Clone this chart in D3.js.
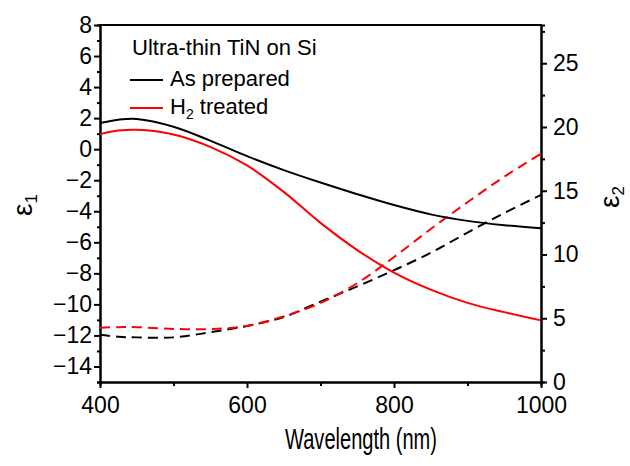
<!DOCTYPE html>
<html>
<head>
<meta charset="utf-8">
<script src="https://cdn.jsdelivr.net/npm/d3@7"></script>
<style>
  body { margin: 0; background: #fff; }
  svg { font-family: "Liberation Sans", Arial, sans-serif; }
  .axis path, .axis line { stroke: #000; stroke-width: 2; }
  .axis text { font-size: 23px; fill: #000; }
</style>
</head>
<body>
<svg width="630" height="466"></svg>
<script>
// wavelength grid (nm)
var wavelength = [400, 425, 450, 500, 550, 600, 650, 700, 750, 800, 850, 900, 950, 1000];
// eps1 (left axis)
var eps1_asPrepared = [1.68, 1.9, 1.95, 1.45, 0.55, -0.45, -1.35, -2.15, -2.9, -3.6, -4.2, -4.62, -4.9, -5.1];
var eps1_h2 = [0.97, 1.2, 1.25, 0.95, 0.15, -1.05, -2.75, -4.75, -6.5, -7.95, -9.05, -9.9, -10.5, -11.03];
// eps2 (right axis)
var eps2_asPrepared = [3.7, 3.55, 3.5, 3.5, 3.9, 4.4, 5.1, 6.3, 7.5, 8.77, 10.13, 11.72, 13.25, 14.67];
var eps2_h2 = [4.26, 4.3, 4.3, 4.16, 4.15, 4.4, 5.15, 6.2, 7.75, 9.8, 12.0, 14.1, 16.1, 17.9];

var xMajor = [400, 600, 800, 1000], xMinor = [500, 700, 900];
var y1Major = d3.range(-14, 9, 2), y1Minor = d3.range(-15, 8, 2);
var y2Major = [0, 5, 10, 15, 20, 25], y2Minor = [2.5, 7.5, 12.5, 17.5, 22.5, 27.5];

var svg = d3.select("svg");
var mLeft = 100, mRight = 541, mTop = 25, mBottom = 382;

var x = d3.scaleLinear().domain([400, 1000]).range([mLeft, mRight]);
var y1 = d3.scaleLinear().domain([-15, 8]).range([mBottom, mTop]);
var y2 = d3.scaleLinear().domain([0, 28]).range([mBottom, mTop]);
var fmt = d3.format("d");

// minor ticks
svg.append("g").attr("class", "axis").attr("transform", "translate(0," + mBottom + ")")
  .call(d3.axisBottom(x).tickValues(xMinor).tickSize(4).tickFormat(""));
svg.append("g").attr("class", "axis").attr("transform", "translate(" + mLeft + ",0)")
  .call(d3.axisLeft(y1).tickValues(y1Minor).tickSize(3).tickFormat(""));
svg.append("g").attr("class", "axis").attr("transform", "translate(" + mRight + ",0)")
  .call(d3.axisRight(y2).tickValues(y2Minor).tickSize(4).tickFormat(""));

// major ticks
svg.append("g").attr("class", "axis").attr("transform", "translate(0," + mBottom + ")")
  .call(d3.axisBottom(x).tickValues(xMajor).tickFormat(fmt).tickSize(6).tickPadding(9).tickSizeOuter(0));
svg.append("g").attr("class", "axis").attr("transform", "translate(" + mLeft + ",0)")
  .call(d3.axisLeft(y1).tickValues(y1Major).tickFormat(fmt).tickSize(6).tickPadding(2).tickSizeOuter(0));
svg.append("g").attr("class", "axis").attr("transform", "translate(" + mRight + ",0)")
  .call(d3.axisRight(y2).tickValues(y2Major).tickFormat(fmt).tickSize(6).tickPadding(6).tickSizeOuter(0));

// top border
svg.append("line").attr("x1", mLeft - 1).attr("x2", mRight + 1).attr("y1", mTop).attr("y2", mTop)
  .attr("stroke", "#000").attr("stroke-width", 2);

function lineFor(yScale, vals) {
  return d3.line()
    .x(function(d, i) { return x(wavelength[i]); })
    .y(function(d) { return yScale(d); })
    .curve(d3.curveCatmullRom)(vals);
}

var series = [
  {vals: eps2_asPrepared, scale: y2, color: "#000", dash: "10,6"},
  {vals: eps2_h2, scale: y2, color: "#ff0000", dash: "10,6"},
  {vals: eps1_asPrepared, scale: y1, color: "#000", dash: null},
  {vals: eps1_h2, scale: y1, color: "#ff0000", dash: null}
];
svg.selectAll("path.curve").data(series).enter().append("path")
  .attr("class", "curve")
  .attr("d", function(d) { return lineFor(d.scale, d.vals); })
  .attr("fill", "none")
  .attr("stroke", function(d) { return d.color; })
  .attr("stroke-width", 2)
  .attr("stroke-dasharray", function(d) { return d.dash; });

// legend
var lg = svg.append("g").attr("font-size", 22);
lg.append("text").attr("x", 132).attr("y", 55).text("Ultra-thin TiN on Si");
lg.append("line").attr("x1", 130).attr("x2", 163).attr("y1", 80).attr("y2", 80)
  .attr("stroke", "#000").attr("stroke-width", 2);
lg.append("text").attr("x", 170).attr("y", 86).text("As prepared");
lg.append("line").attr("x1", 130).attr("x2", 163).attr("y1", 108).attr("y2", 108)
  .attr("stroke", "#ff0000").attr("stroke-width", 2);
var h2 = lg.append("text").attr("x", 170).attr("y", 114);
h2.append("tspan").text("H");
h2.append("tspan").attr("font-size", 14).attr("dy", 5).text("2");
h2.append("tspan").attr("dy", -5).text(" treated");

// axis titles
svg.append("text").attr("x", 361).attr("y", 449).attr("text-anchor", "middle")
  .attr("font-size", 30).attr("textLength", 152).attr("lengthAdjust", "spacingAndGlyphs")
  .text("Wavelength (nm)");

function epsLabel(cx, cy, sub) {
  var t = svg.append("text").attr("transform", "translate(" + cx + "," + cy + ") rotate(-90)")
    .attr("text-anchor", "middle").attr("font-size", 28);
  t.append("tspan").text("ε");
  t.append("tspan").attr("font-size", 17).attr("dy", 5).text(sub);
}
epsLabel(32, 205, "1");
epsLabel(619, 197, "2");
</script>
</body>
</html>
